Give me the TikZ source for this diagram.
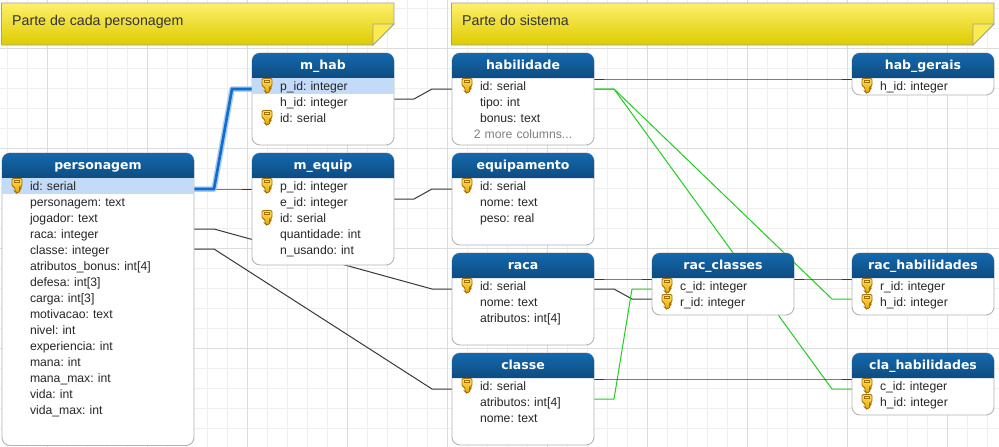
\documentclass[tikz,border=0pt]{standalone}
\usepackage{fontspec}
\setmainfont{Liberation Sans}
\newfontfamily\headfont{DejaVu Sans}
\frenchspacing
\usetikzlibrary{calc}
\pgfdeclarelayer{gridlayer}
\pgfdeclarelayer{edgelayer}
\pgfsetlayers{gridlayer,edgelayer,main}
\definecolor{gridmajor}{HTML}{DCDCDC}
\definecolor{gridminor}{HTML}{EFEFEF}
\definecolor{headtop}{HTML}{1568AD}
\definecolor{headbot}{HTML}{0D4C80}
\definecolor{tableborder}{HTML}{B4B4B4}
\definecolor{rowhi}{HTML}{C3DBF8}
\definecolor{notetop}{HTML}{FDF06C}
\definecolor{notebot}{HTML}{DECB00}
\definecolor{notefold}{HTML}{FCEB50}
\definecolor{noteborder}{HTML}{A0A0A0}
\definecolor{edgeblack}{HTML}{383838}
\definecolor{edgegreen}{HTML}{22CC22}
\definecolor{edgeblue}{HTML}{0F6CD0}
\definecolor{edgehalo}{HTML}{A8CCF0}
\definecolor{keyline}{HTML}{A66F00}
\definecolor{keytop}{HTML}{FFE066}
\definecolor{keybot}{HTML}{E6A800}
\tikzset{
  tablebox/.style={draw=tableborder,fill=white,rounded corners=8pt,line width=0.9pt,inner sep=0pt,outer sep=0pt,anchor=north west},
  headshade/.style={top color=headtop,bottom color=headbot,draw=none},
  headtext/.style={text=white,inner sep=0pt,text height=9pt,text depth=3pt,font=\headfont\fontsize{12.5}{14}\selectfont\bfseries},
  rowcell/.style={inner sep=0pt,outer sep=0pt,minimum height=16pt,text width=\tw pt,align=left,text=black!85,font=\fontsize{12.2}{14}\selectfont,text height=10pt,text depth=2pt},
  notebox/.style={top color=notetop,bottom color=notebot,draw=noteborder,line width=0.8pt},
  notefoldbox/.style={fill=notefold,draw=noteborder,line width=0.8pt},
  notetext/.style={anchor=base west,inner sep=0pt,text=black!80,font=\fontsize{14.2}{16}\selectfont},
  reledge/.style={draw=edgeblack,line width=1pt},
  greenedge/.style={draw=edgegreen,line width=1pt},
  keyicon/.style={top color=keytop,bottom color=keybot,draw=keyline,line width=0.9pt},
}
% table: name, x, y, width, height, title
\newcommand{\dbtable}[6]{%
  \xdef\tw{#4}%
  \node[tablebox,minimum width=#4pt,minimum height=#5pt] (#1) at (#2,#3) {};
  \shade[headshade] (#2,#3+25) [rounded corners=8pt] -- (#2,#3) -- (#2+#4,#3) [sharp corners] -- (#2+#4,#3+25) -- cycle;
  \node[headtext] (#1-head) at (#2+#4/2,#3+13) {#6};
}
% field: table, field name, row index, text
\newcommand{\dbfield}[4]{%
  \node[rowcell] (#1-#2) at ($(#1.north)+(0,33+16*#3)$) {\hspace*{28pt}#4};
}
\newcommand{\hirow}[2]{%
  \fill[rowhi] ($(#1.west)+(0,-8)$) rectangle ($(#1.east)+(0,8)$);
  \node[rowcell] at (#1) {\hspace*{28pt}#2};
}
% key icon in the given row
\newcommand{\keyat}[1]{%
  \begin{scope}[shift={($(#1.west)+(9.5,-8)$)}]
    \shade[keyicon,rounded corners=1.2pt] (0.5,0.5) -- (10.5,0.5) -- (10.5,8) -- (8,9.5) -- (8,10.5) -- (9.5,10.5) -- (8,12) -- (8,14.5) -- (4.5,14.5) -- (3.5,13.5) -- (3.5,9.5) -- (0.5,8) -- cycle;
    \fill[white!70!keybot] (3.2,2.5) rectangle (7.8,4.5);
    \draw[keyline,line width=0.7pt] (3.2,2.5) rectangle (7.8,4.5);
  \end{scope}
}
\newcommand{\dblink}[5][reledge]{%
  \draw[#1] ($(#2.east)+(0,#3)$) -- ++(20,0) -- ($(#4.west)+(-20,#5)$) -- ($(#4.west)+(0,#5)$);
}
\newcommand{\dbnote}[4]{% name x-left x-right text
  \shade[notebox] (#2,3) -- (#3,3) -- (#3,24) -- (#3-21,45) -- (#2,45) -- cycle;
  \path[notefoldbox] (#3-21,24) -- (#3,24) -- (#3-21,45) -- cycle;
  \node[notetext] (#1) at (#2+10.5,25) {#4};
}
\begin{document}
\begin{tikzpicture}[x=1pt,y=-1pt]
\useasboundingbox (0,0) rectangle (999,447);
\begin{pgfonlayer}{gridlayer}
  \fill[white] (0,0) rectangle (999,447);
  \foreach \gx in {7,27,...,987} {\draw[gridminor,line width=0.9pt] (\gx,0) -- (\gx,447);}
  \foreach \gy in {8,28,...,428} {\draw[gridminor,line width=0.9pt] (0,\gy) -- (999,\gy);}
  \foreach \gx in {47,147,...,947} {\draw[gridmajor,line width=0.9pt] (\gx,0) -- (\gx,447);}
  \foreach \gy in {48,148,...,448} {\draw[gridmajor,line width=0.9pt] (0,\gy) -- (999,\gy);}
\end{pgfonlayer}

\dbnote{note1}{1.5}{394}{Parte de cada personagem}
\dbnote{note2}{451.5}{994}{Parte do sistema}

\dbtable{personagem}{2}{153}{192}{292.5}{personagem}
\dbfield{personagem}{id}{0}{}
\hirow{personagem-id}{id: serial}
\keyat{personagem-id}
\dbfield{personagem}{nome}{1}{personagem: text}
\dbfield{personagem}{jogador}{2}{jogador: text}
\dbfield{personagem}{raca}{3}{raca: integer}
\dbfield{personagem}{classe}{4}{classe: integer}
\dbfield{personagem}{atrib}{5}{atributos\_bonus: int[4]}
\dbfield{personagem}{defesa}{6}{defesa: int[3]}
\dbfield{personagem}{carga}{7}{carga: int[3]}
\dbfield{personagem}{motivacao}{8}{motivacao: text}
\dbfield{personagem}{nivel}{9}{nivel: int}
\dbfield{personagem}{exp}{10}{experiencia: int}
\dbfield{personagem}{mana}{11}{mana: int}
\dbfield{personagem}{manamax}{12}{mana\_max: int}
\dbfield{personagem}{vida}{13}{vida: int}
\dbfield{personagem}{vidamax}{14}{vida\_max: int}

\dbtable{mhab}{252}{53}{142}{92}{m\_hab}
\dbfield{mhab}{pid}{0}{}
\hirow{mhab-pid}{p\_id: integer}
\keyat{mhab-pid}
\dbfield{mhab}{hid}{1}{h\_id: integer}
\dbfield{mhab}{id}{2}{id: serial}
\keyat{mhab-id}

\dbtable{mequip}{252}{153}{142}{112}{m\_equip}
\dbfield{mequip}{pid}{0}{p\_id: integer}
\keyat{mequip-pid}
\dbfield{mequip}{eid}{1}{e\_id: integer}
\dbfield{mequip}{id}{2}{id: serial}
\keyat{mequip-id}
\dbfield{mequip}{qtd}{3}{quantidade: int}
\dbfield{mequip}{nusando}{4}{n\_usando: int}

\dbtable{habilidade}{452}{53}{142}{92}{habilidade}
\dbfield{habilidade}{id}{0}{id: serial}
\keyat{habilidade-id}
\dbfield{habilidade}{tipo}{1}{tipo: int}
\dbfield{habilidade}{bonus}{2}{bonus: text}
\node[rowcell,text=black!50,align=center] (habilidade-more) at ($(habilidade.north)+(0,81)$) {2 more columns...};

\dbtable{equipamento}{452}{153}{142}{92}{equipamento}
\dbfield{equipamento}{id}{0}{id: serial}
\keyat{equipamento-id}
\dbfield{equipamento}{nome}{1}{nome: text}
\dbfield{equipamento}{peso}{2}{peso: real}

\dbtable{raca}{452}{253}{142}{92}{raca}
\dbfield{raca}{id}{0}{id: serial}
\keyat{raca-id}
\dbfield{raca}{nome}{1}{nome: text}
\dbfield{raca}{atrib}{2}{atributos: int[4]}

\dbtable{classe}{452}{353}{142}{92}{classe}
\dbfield{classe}{id}{0}{id: serial}
\keyat{classe-id}
\dbfield{classe}{atrib}{1}{atributos: int[4]}
\dbfield{classe}{nome}{2}{nome: text}

\dbtable{racclasses}{652}{253}{142}{62}{rac\_classes}
\dbfield{racclasses}{cid}{0}{c\_id: integer}
\keyat{racclasses-cid}
\dbfield{racclasses}{rid}{1}{r\_id: integer}
\keyat{racclasses-rid}

\dbtable{habgerais}{852}{53}{142}{42}{hab\_gerais}
\dbfield{habgerais}{hid}{0}{h\_id: integer}
\keyat{habgerais-hid}

\dbtable{rachab}{852}{253}{142}{62}{rac\_habilidades}
\dbfield{rachab}{rid}{0}{r\_id: integer}
\keyat{rachab-rid}
\dbfield{rachab}{hid}{1}{h\_id: integer}
\keyat{rachab-hid}

\dbtable{clahab}{852}{353}{142}{62}{cla\_habilidades}
\dbfield{clahab}{cid}{0}{c\_id: integer}
\keyat{clahab-cid}
\dbfield{clahab}{hid}{1}{h\_id: integer}
\keyat{clahab-hid}

\begin{pgfonlayer}{edgelayer}
  \dblink{personagem-id}{3}{mequip-pid}{3}
  \dblink{personagem-raca}{-5}{raca-id}{3}
  \dblink{personagem-classe}{-1}{classe-id}{3}
  \dblink{mhab-hid}{-3}{habilidade-id}{3}
  \dblink{mequip-eid}{-3}{equipamento-id}{3}
  \dblink{habilidade-id}{-7}{habgerais-hid}{-7}
  \dblink[greenedge]{habilidade-id}{3}{rachab-hid}{-3}
  \dblink[greenedge]{habilidade-id}{3}{clahab-hid}{-13}
  \dblink{raca-id}{-7}{racclasses-cid}{-7}
  \dblink{raca-id}{3}{racclasses-rid}{-3}
  \dblink[greenedge]{classe-atrib}{-3}{racclasses-cid}{3}
  \dblink{racclasses-cid}{-7}{rachab-rid}{-7}
  \dblink{classe-id}{-7}{clahab-cid}{-7}
  \dblink[draw=edgehalo,line width=5.5pt,line join=round]{personagem-id}{3}{mhab-pid}{3}
  \dblink[draw=edgeblue,line width=2.6pt]{personagem-id}{3}{mhab-pid}{3}
\end{pgfonlayer}
\end{tikzpicture}
\end{document}
